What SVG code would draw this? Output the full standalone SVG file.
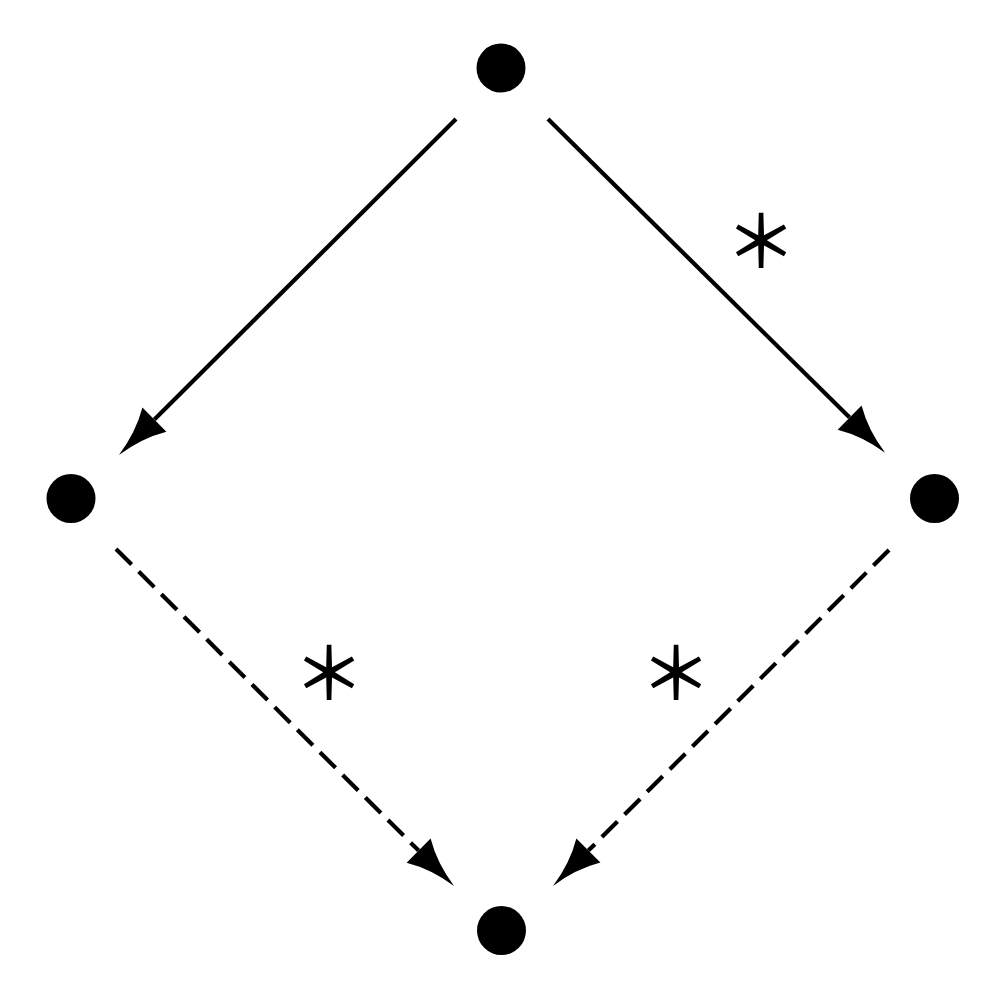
<svg xmlns="http://www.w3.org/2000/svg" width="1000" height="1000" viewBox="0 0 1000 1000">
  <style>
    .node { fill: #000; }
    .edge { fill: none; stroke: #000; stroke-width: 4.2; }
    .dashed { stroke-dasharray: 22 10; }
    .label { font-family: "Noto Sans CJK JP", "Noto Sans", sans-serif; font-size: 72px; font-weight: 500; fill: #000; text-anchor: middle; }
  </style>
  <defs>
    <marker id="arrow" markerUnits="userSpaceOnUse" markerWidth="60" markerHeight="40" refX="0" refY="0" orient="auto" overflow="visible">
      <path d="M50,0 Q22,-4 0,-17 L0,17 Q22,4 50,0 Z" fill="#000"/>
    </marker>
  </defs>
  <rect width="1000" height="1000" fill="#fff"/>
  <g id="connectors">
    <line class="edge" x1="456" y1="119" x2="154.4" y2="419.6" marker-end="url(#arrow)"/>
    <line class="edge" x1="548" y1="119" x2="849.6" y2="417.6" marker-end="url(#arrow)"/>
    <line class="edge dashed" x1="116" y1="549" x2="418.6" y2="850.6" marker-end="url(#arrow)"/>
    <line class="edge dashed" x1="889" y1="550" x2="588.4" y2="850.6" marker-end="url(#arrow)"/>
  </g>
  <g id="labels">
    <text class="label" x="761" y="267">＊</text>
    <text class="label" x="329" y="699">＊</text>
    <text class="label" x="676" y="699">＊</text>
  </g>
  <g id="node-top"><circle class="node" cx="501" cy="68" r="24.5"/></g>
  <g id="node-left"><circle class="node" cx="71" cy="498.5" r="24.5"/></g>
  <g id="node-right"><circle class="node" cx="934.5" cy="498.5" r="24.5"/></g>
  <g id="node-bottom"><circle class="node" cx="501.5" cy="930.5" r="24.5"/></g>
</svg>
